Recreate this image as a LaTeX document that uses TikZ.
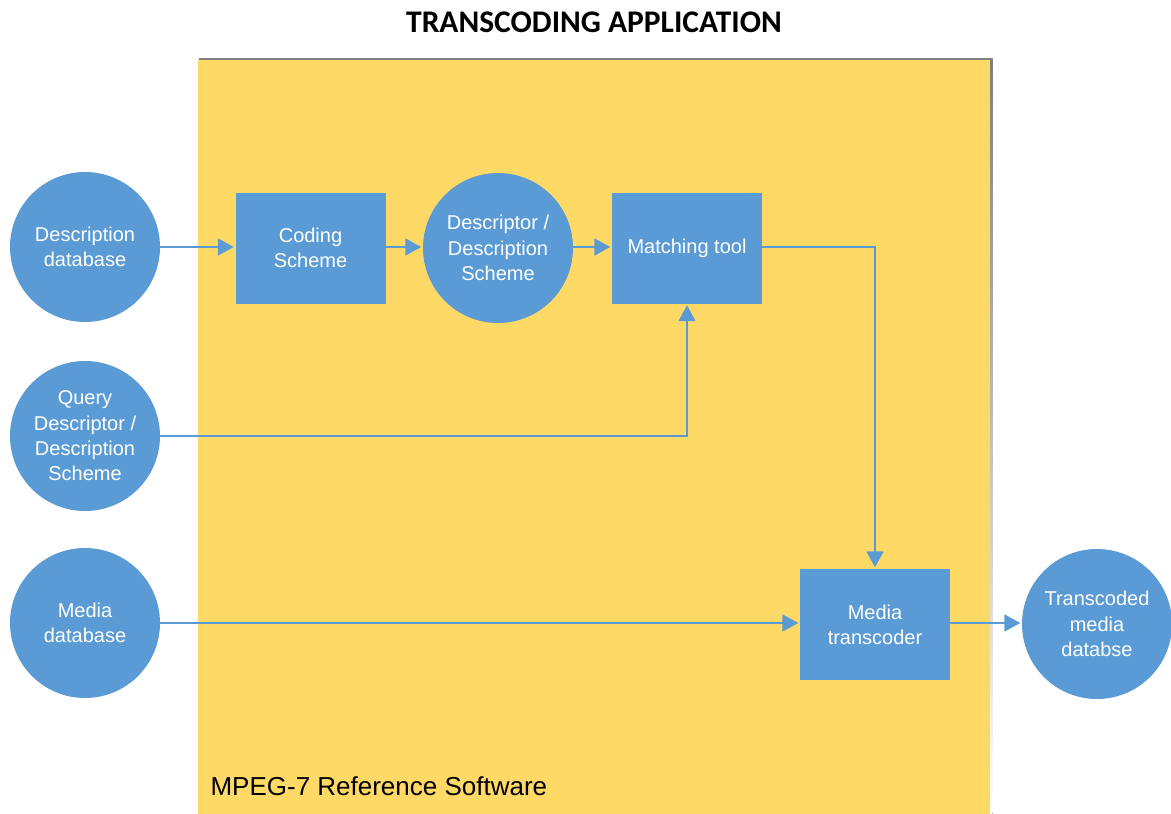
\documentclass[tikz,border=0pt]{standalone}
\usepackage{fontspec}
\setmainfont{Liberation Sans}
\newfontfamily\titlefont{Carlito}
\usetikzlibrary{arrows.meta}
\definecolor{boxblue}{HTML}{5B9BD5}
\definecolor{panelgold}{HTML}{FFD966}
\definecolor{shade}{HTML}{F0F0F0}
\begin{document}
\begin{tikzpicture}[x=1pt,y=-1pt,
  blob/.style={circle, fill=boxblue, minimum size=150pt, inner sep=0pt, text=white, align=center, font=\fontsize{20}{25.3}\selectfont},
  blockbox/.style={rectangle, fill=boxblue, minimum width=150pt, minimum height=111pt, inner sep=0pt, text=white, align=center, font=\fontsize{20}{25.3}\selectfont},
  link/.style={draw=boxblue, line width=1.7pt, shorten >=1.5pt, -{Triangle[length=16pt,width=17pt]}}
]
\useasboundingbox (0,0) rectangle (1171,814);
\fill[white] (0,0) rectangle (1171,814);
% panel
\fill[shade] (199,58.5) rectangle (992.5,814);
\fill[panelgold] (198,60) rectangle (990,814);
\node[font=\titlefont\bfseries\fontsize{31.5}{36}\selectfont] (title) at (594,22) {TRANSCODING APPLICATION};
\node[anchor=base west, font=\fontsize{26}{30}\selectfont] (panellabel) at (207,795) {MPEG-7 Reference Software};
% nodes
\node[blob] (descdb) at (85,247) {Description\\database};
\node[blockbox] (coding) at (310.5,248) {Coding\\Scheme};
\node[blob] (dds) at (498,248) {Descriptor /\\Description\\Scheme};
\node[blockbox] (match) at (687,248) {Matching tool};
\node[blob] (query) at (85,436) {Query\\Descriptor /\\Description\\Scheme};
\node[blob] (mediadb) at (85,623) {Media\\database};
\node[blockbox] (transcoder) at (875,624.5) {Media\\transcoder};
\node[blob] (tdb) at (1097,624) {Transcoded\\media\\databse};
% connectors
\draw[link] (descdb.east) -- (coding.west |- descdb.east);
\draw[link] (coding.east |- descdb.east) -- (dds.west |- descdb.east);
\draw[link] (dds.east |- descdb.east) -- (match.west |- descdb.east);
\draw[link] (query.east) -| (match.south);
\draw[link] (match.east |- descdb.east) -| (transcoder.north);
\draw[link] (mediadb.east) -- (transcoder.west |- mediadb.east);
\draw[link] (transcoder.east |- mediadb.east) -- (tdb.west |- mediadb.east);
\end{tikzpicture}
\end{document}
